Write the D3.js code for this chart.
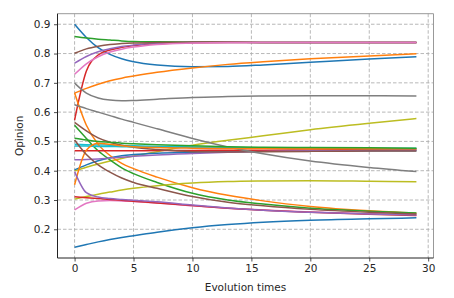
<!DOCTYPE html>
<html>
<head>
<meta charset="utf-8">
<script src="https://cdn.jsdelivr.net/npm/d3@7"></script>
<style>
  body { margin: 0; background: #fff; }
  svg { display: block; font-family: "DejaVu Sans", sans-serif; }
</style>
</head>
<body>
<div id="chart"></div>
<script>
const width = 454
const height = 298

const times = [0, 1, 2, 3, 4, 5, 7, 10, 13, 16, 20, 25, 29]
const xTicks = [0, 5, 10, 15, 20, 25, 30]
const yTicks = [0.2, 0.3, 0.4, 0.5, 0.6, 0.7, 0.8, 0.9]

// one opinion trajectory per agent, same order as the colour cycle
const agent00 = [0.900, 0.855, 0.820, 0.797, 0.782, 0.772, 0.761, 0.755, 0.756, 0.761, 0.770, 0.781, 0.789]
const agent01 = [0.665, 0.681, 0.695, 0.707, 0.716, 0.723, 0.736, 0.751, 0.763, 0.772, 0.782, 0.792, 0.799]
const agent02 = [0.858, 0.853, 0.849, 0.846, 0.843, 0.841, 0.840, 0.839, 0.839, 0.838, 0.838, 0.838, 0.838]
const agent03 = [0.573, 0.740, 0.795, 0.812, 0.821, 0.827, 0.833, 0.837, 0.838, 0.838, 0.838, 0.838, 0.838]
const agent04 = [0.767, 0.790, 0.806, 0.816, 0.824, 0.829, 0.835, 0.838, 0.838, 0.838, 0.838, 0.838, 0.838]
const agent05 = [0.801, 0.816, 0.825, 0.831, 0.834, 0.836, 0.838, 0.839, 0.839, 0.838, 0.838, 0.838, 0.838]
const agent06 = [0.729, 0.765, 0.789, 0.805, 0.815, 0.822, 0.831, 0.836, 0.838, 0.838, 0.838, 0.838, 0.838]
const agent07 = [0.699, 0.665, 0.648, 0.641, 0.639, 0.640, 0.644, 0.650, 0.653, 0.655, 0.656, 0.656, 0.655]
const agent08 = [0.400, 0.412, 0.423, 0.433, 0.442, 0.450, 0.465, 0.487, 0.504, 0.519, 0.540, 0.562, 0.578]
const agent09 = [0.490, 0.489, 0.488, 0.487, 0.486, 0.485, 0.483, 0.481, 0.479, 0.478, 0.477, 0.476, 0.476]
const agent10 = [0.403, 0.420, 0.434, 0.444, 0.451, 0.455, 0.460, 0.463, 0.465, 0.466, 0.467, 0.468, 0.468]
const agent11 = [0.665, 0.555, 0.490, 0.452, 0.425, 0.407, 0.378, 0.342, 0.316, 0.297, 0.278, 0.263, 0.255]
const agent12 = [0.555, 0.510, 0.468, 0.437, 0.410, 0.390, 0.360, 0.323, 0.300, 0.286, 0.272, 0.262, 0.256]
const agent13 = [0.468, 0.468, 0.468, 0.468, 0.468, 0.468, 0.469, 0.469, 0.470, 0.470, 0.471, 0.472, 0.472]
const agent14 = [0.437, 0.438, 0.440, 0.443, 0.446, 0.449, 0.454, 0.459, 0.463, 0.466, 0.468, 0.469, 0.470]
const agent15 = [0.565, 0.536, 0.512, 0.497, 0.487, 0.480, 0.472, 0.465, 0.464, 0.465, 0.466, 0.467, 0.467]
const agent16 = [0.266, 0.289, 0.297, 0.298, 0.297, 0.295, 0.290, 0.280, 0.272, 0.266, 0.259, 0.253, 0.250]
const agent17 = [0.625, 0.612, 0.600, 0.588, 0.576, 0.565, 0.543, 0.510, 0.481, 0.458, 0.433, 0.411, 0.397]
const agent18 = [0.303, 0.312, 0.320, 0.327, 0.334, 0.340, 0.349, 0.358, 0.363, 0.365, 0.366, 0.364, 0.362]
const agent19 = [0.484, 0.484, 0.483, 0.483, 0.482, 0.482, 0.481, 0.479, 0.478, 0.477, 0.477, 0.476, 0.476]
const agent20 = [0.139, 0.148, 0.157, 0.165, 0.172, 0.178, 0.190, 0.205, 0.216, 0.224, 0.231, 0.236, 0.239]
const agent21 = [0.352, 0.470, 0.494, 0.490, 0.485, 0.482, 0.479, 0.477, 0.476, 0.476, 0.475, 0.475, 0.475]
const agent22 = [0.511, 0.505, 0.500, 0.497, 0.494, 0.492, 0.489, 0.485, 0.482, 0.480, 0.479, 0.478, 0.477]
const agent23 = [0.311, 0.308, 0.305, 0.302, 0.299, 0.296, 0.290, 0.281, 0.272, 0.265, 0.258, 0.251, 0.247]
const agent24 = [0.397, 0.325, 0.310, 0.305, 0.302, 0.299, 0.294, 0.283, 0.273, 0.265, 0.258, 0.252, 0.249]
const agent25 = [0.505, 0.455, 0.420, 0.395, 0.375, 0.360, 0.340, 0.312, 0.292, 0.280, 0.268, 0.258, 0.252]

const agents = [
  agent00, agent01, agent02, agent03, agent04, agent05, agent06, agent07, agent08, agent09,
  agent10, agent11, agent12, agent13, agent14, agent15, agent16, agent17, agent18, agent19,
  agent20, agent21, agent22, agent23, agent24, agent25
]

const margin = {top: 13.7, right: 20.5, bottom: 40, left: 57.5}
const innerW = width - margin.left - margin.right
const innerH = height - margin.top - margin.bottom

const x = d3.scaleLinear().domain([-1.45, 30.45]).range([0, innerW])
const y = d3.scaleLinear().domain([0.102, 0.936]).range([innerH, 0])
const color = d3.scaleOrdinal(d3.schemeCategory10)

const svg = d3.select('#chart')
  .append('svg')
  .attr('width', width)
  .attr('height', height)

const g = svg.append('g')
  .attr('transform', `translate(${margin.left},${margin.top})`)

// dashed grid
const grid = g.append('g')
  .attr('stroke', '#b0b0b0')
  .attr('stroke-width', 0.9)
  .attr('stroke-dasharray', '3.5,2')
grid.selectAll('.gx').data(xTicks).join('line')
  .attr('x1', d => x(d)).attr('x2', d => x(d))
  .attr('y1', 0).attr('y2', innerH)
grid.selectAll('.gy').data(yTicks).join('line')
  .attr('x1', 0).attr('x2', innerW)
  .attr('y1', d => y(d)).attr('y2', d => y(d))

const line = d3.line()
  .x((d, i) => x(times[i]))
  .y(d => y(d))
  .curve(d3.curveMonotoneX)

g.append('g')
  .selectAll('path')
  .data(agents)
  .join('path')
  .attr('fill', 'none')
  .attr('stroke', (d, i) => color(i % 10))
  .attr('stroke-width', 1.5)
  .attr('d', line)

// spines: left/bottom dark, top/right light
g.append('line').attr('x1', 0).attr('x2', innerW).attr('y1', 0).attr('y2', 0)
  .attr('stroke', '#999').attr('stroke-width', 1)
g.append('line').attr('x1', innerW).attr('x2', innerW).attr('y1', 0).attr('y2', innerH)
  .attr('stroke', '#999').attr('stroke-width', 1)
g.append('line').attr('x1', 0).attr('x2', 0).attr('y1', 0).attr('y2', innerH)
  .attr('stroke', '#222').attr('stroke-width', 1)
g.append('line').attr('x1', 0).attr('x2', innerW).attr('y1', innerH).attr('y2', innerH)
  .attr('stroke', '#222').attr('stroke-width', 1)

const xAxis = g.append('g')
  .attr('transform', `translate(0,${innerH})`)
  .call(d3.axisBottom(x).tickValues(xTicks).tickSize(3.5).tickPadding(3.5))
const yAxis = g.append('g')
  .call(d3.axisLeft(y).tickValues(yTicks).tickSize(3.5).tickPadding(3.5).tickFormat(d3.format('.1f')))

;[xAxis, yAxis].forEach(a => {
  a.select('.domain').remove()
  a.selectAll('.tick line').attr('stroke', '#222').attr('stroke-width', 0.8)
  a.selectAll('.tick text')
    .attr('fill', '#262626')
    .style('font-family', '"DejaVu Sans", sans-serif')
    .style('font-size', '10.5px')
})

svg.append('text')
  .attr('x', margin.left + innerW / 2)
  .attr('y', 291)
  .attr('text-anchor', 'middle')
  .attr('fill', '#262626')
  .style('font-size', '10.5px')
  .text('Evolution times')

svg.append('text')
  .attr('transform', `translate(23,${margin.top + innerH / 2}) rotate(-90)`)
  .attr('text-anchor', 'middle')
  .attr('fill', '#262626')
  .style('font-size', '10.5px')
  .text('Opinion')
</script>
</body>
</html>
